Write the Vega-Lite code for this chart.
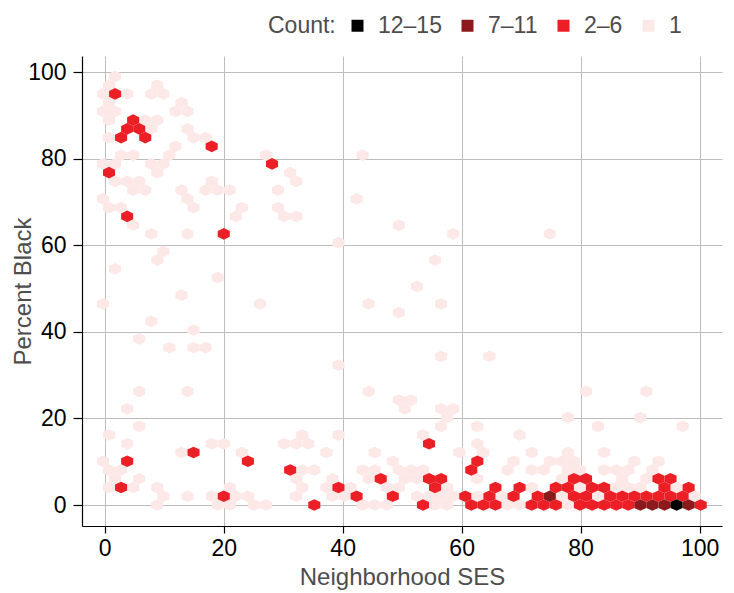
{
 "$schema": "https://vega.github.io/schema/vega-lite/v6.json",
 "autosize": {"type": "none"},
 "padding": {"left": 82, "top": 56, "right": 12, "bottom": 67},
 "width": 640,
 "height": 470,
 "config": {"view": {"stroke": null}, "font": "Liberation Sans"},
 "data": {"values": [
  {"x":1.74,"y":98.98,"n":"1"},
  {"x":0.72,"y":96.96,"n":"1"},{"x":8.84,"y":96.96,"n":"1"},
  {"x":-0.3,"y":94.94,"n":"1"},{"x":3.77,"y":94.94,"n":"1"},{"x":7.83,"y":94.94,"n":"1"},{"x":9.86,"y":94.94,"n":"1"},
  {"x":0.72,"y":92.92,"n":"1"},{"x":12.9,"y":92.92,"n":"1"},
  {"x":-0.3,"y":90.9,"n":"1"},{"x":1.74,"y":90.9,"n":"1"},{"x":11.89,"y":90.9,"n":"1"},{"x":13.92,"y":90.9,"n":"1"},
  {"x":0.72,"y":88.88,"n":"1"},{"x":6.81,"y":88.88,"n":"1"},{"x":8.84,"y":88.88,"n":"1"},
  {"x":7.83,"y":86.86,"n":"1"},{"x":13.92,"y":86.86,"n":"1"},
  {"x":0.72,"y":84.84,"n":"1"},{"x":14.93,"y":84.84,"n":"1"},{"x":16.96,"y":84.84,"n":"1"},
  {"x":11.89,"y":82.82,"n":"1"},
  {"x":2.75,"y":80.8,"n":"1"},{"x":4.78,"y":80.8,"n":"1"},{"x":10.87,"y":80.8,"n":"1"},{"x":27.11,"y":80.8,"n":"1"},{"x":43.35,"y":80.8,"n":"1"},
  {"x":-0.3,"y":78.78,"n":"1"},{"x":1.74,"y":78.78,"n":"1"},{"x":7.83,"y":78.78,"n":"1"},{"x":9.86,"y":78.78,"n":"1"},
  {"x":8.84,"y":76.76,"n":"1"},{"x":31.17,"y":76.76,"n":"1"},
  {"x":1.74,"y":74.74,"n":"1"},{"x":3.77,"y":74.74,"n":"1"},{"x":5.8,"y":74.74,"n":"1"},{"x":17.98,"y":74.74,"n":"1"},{"x":32.19,"y":74.74,"n":"1"},
  {"x":4.78,"y":72.72,"n":"1"},{"x":6.81,"y":72.72,"n":"1"},{"x":12.9,"y":72.72,"n":"1"},{"x":16.96,"y":72.72,"n":"1"},{"x":18.99,"y":72.72,"n":"1"},{"x":21.02,"y":72.72,"n":"1"},{"x":29.14,"y":72.72,"n":"1"},
  {"x":-0.3,"y":70.7,"n":"1"},{"x":13.92,"y":70.7,"n":"1"},{"x":42.34,"y":70.7,"n":"1"},
  {"x":0.72,"y":68.68,"n":"1"},{"x":2.75,"y":68.68,"n":"1"},{"x":14.93,"y":68.68,"n":"1"},{"x":23.05,"y":68.68,"n":"1"},{"x":29.14,"y":68.68,"n":"1"},
  {"x":22.04,"y":66.66,"n":"1"},{"x":30.16,"y":66.66,"n":"1"},{"x":32.19,"y":66.66,"n":"1"},
  {"x":4.78,"y":64.64,"n":"1"},{"x":49.44,"y":64.64,"n":"1"},
  {"x":7.83,"y":62.62,"n":"1"},{"x":13.92,"y":62.62,"n":"1"},{"x":58.58,"y":62.62,"n":"1"},{"x":74.82,"y":62.62,"n":"1"},
  {"x":39.29,"y":60.6,"n":"1"},
  {"x":9.86,"y":58.58,"n":"1"},
  {"x":8.84,"y":56.56,"n":"1"},{"x":55.53,"y":56.56,"n":"1"},
  {"x":1.74,"y":54.54,"n":"1"},
  {"x":18.99,"y":52.52,"n":"1"},
  {"x":52.49,"y":50.5,"n":"1"},
  {"x":12.9,"y":48.48,"n":"1"},
  {"x":-0.3,"y":46.46,"n":"1"},{"x":26.1,"y":46.46,"n":"1"},{"x":44.37,"y":46.46,"n":"1"},{"x":56.55,"y":46.46,"n":"1"},
  {"x":49.44,"y":44.44,"n":"1"},
  {"x":7.83,"y":42.42,"n":"1"},
  {"x":14.93,"y":40.4,"n":"1"},
  {"x":5.8,"y":38.38,"n":"1"},
  {"x":10.87,"y":36.36,"n":"1"},{"x":14.93,"y":36.36,"n":"1"},{"x":16.96,"y":36.36,"n":"1"},
  {"x":56.55,"y":34.34,"n":"1"},{"x":64.67,"y":34.34,"n":"1"},
  {"x":39.29,"y":32.32,"n":"1"},
  {"x":5.8,"y":26.26,"n":"1"},{"x":13.92,"y":26.26,"n":"1"},{"x":44.37,"y":26.26,"n":"1"},{"x":80.91,"y":26.26,"n":"1"},{"x":91.06,"y":26.26,"n":"1"},
  {"x":49.44,"y":24.24,"n":"1"},{"x":51.47,"y":24.24,"n":"1"},
  {"x":3.77,"y":22.22,"n":"1"},{"x":50.46,"y":22.22,"n":"1"},{"x":56.55,"y":22.22,"n":"1"},{"x":58.58,"y":22.22,"n":"1"},
  {"x":57.56,"y":20.2,"n":"1"},{"x":77.86,"y":20.2,"n":"1"},{"x":90.04,"y":20.2,"n":"1"},
  {"x":5.8,"y":18.18,"n":"1"},{"x":56.55,"y":18.18,"n":"1"},{"x":62.64,"y":18.18,"n":"1"},{"x":82.94,"y":18.18,"n":"1"},{"x":97.15,"y":18.18,"n":"1"},
  {"x":0.72,"y":16.16,"n":"1"},{"x":33.2,"y":16.16,"n":"1"},{"x":39.29,"y":16.16,"n":"1"},{"x":53.5,"y":16.16,"n":"1"},{"x":69.74,"y":16.16,"n":"1"},
  {"x":3.77,"y":14.14,"n":"1"},{"x":17.98,"y":14.14,"n":"1"},{"x":20.01,"y":14.14,"n":"1"},{"x":30.16,"y":14.14,"n":"1"},{"x":32.19,"y":14.14,"n":"1"},{"x":34.22,"y":14.14,"n":"1"},{"x":62.64,"y":14.14,"n":"1"},
  {"x":12.9,"y":12.12,"n":"1"},{"x":23.05,"y":12.12,"n":"1"},{"x":37.26,"y":12.12,"n":"1"},{"x":45.38,"y":12.12,"n":"1"},{"x":59.59,"y":12.12,"n":"1"},{"x":63.65,"y":12.12,"n":"1"},{"x":71.77,"y":12.12,"n":"1"},{"x":77.86,"y":12.12,"n":"1"},{"x":83.95,"y":12.12,"n":"1"},
  {"x":-0.3,"y":10.1,"n":"1"},{"x":48.43,"y":10.1,"n":"1"},{"x":68.73,"y":10.1,"n":"1"},{"x":74.82,"y":10.1,"n":"1"},{"x":76.85,"y":10.1,"n":"1"},{"x":78.88,"y":10.1,"n":"1"},{"x":89.03,"y":10.1,"n":"1"},{"x":93.09,"y":10.1,"n":"1"},
  {"x":0.72,"y":8.08,"n":"1"},{"x":2.75,"y":8.08,"n":"1"},{"x":33.2,"y":8.08,"n":"1"},{"x":35.23,"y":8.08,"n":"1"},{"x":43.35,"y":8.08,"n":"1"},{"x":45.38,"y":8.08,"n":"1"},{"x":49.44,"y":8.08,"n":"1"},{"x":51.47,"y":8.08,"n":"1"},{"x":53.5,"y":8.08,"n":"1"},{"x":67.71,"y":8.08,"n":"1"},{"x":71.77,"y":8.08,"n":"1"},{"x":73.8,"y":8.08,"n":"1"},{"x":77.86,"y":8.08,"n":"1"},{"x":79.89,"y":8.08,"n":"1"},{"x":83.95,"y":8.08,"n":"1"},{"x":85.98,"y":8.08,"n":"1"},{"x":88.01,"y":8.08,"n":"1"},{"x":92.07,"y":8.08,"n":"1"},
  {"x":1.74,"y":6.06,"n":"1"},{"x":5.8,"y":6.06,"n":"1"},{"x":32.19,"y":6.06,"n":"1"},{"x":38.28,"y":6.06,"n":"1"},{"x":44.37,"y":6.06,"n":"1"},{"x":50.46,"y":6.06,"n":"1"},{"x":52.49,"y":6.06,"n":"1"},{"x":62.64,"y":6.06,"n":"1"},{"x":76.85,"y":6.06,"n":"1"},{"x":87.0,"y":6.06,"n":"1"},{"x":91.06,"y":6.06,"n":"1"},
  {"x":0.72,"y":4.04,"n":"1"},{"x":4.78,"y":4.04,"n":"1"},{"x":8.84,"y":4.04,"n":"1"},{"x":21.02,"y":4.04,"n":"1"},{"x":33.2,"y":4.04,"n":"1"},{"x":37.26,"y":4.04,"n":"1"},{"x":41.32,"y":4.04,"n":"1"},{"x":47.41,"y":4.04,"n":"1"},{"x":49.44,"y":4.04,"n":"1"},{"x":57.56,"y":4.04,"n":"1"},{"x":71.77,"y":4.04,"n":"1"},{"x":79.89,"y":4.04,"n":"1"},{"x":85.98,"y":4.04,"n":"1"},{"x":88.01,"y":4.04,"n":"1"},{"x":90.04,"y":4.04,"n":"1"},{"x":96.13,"y":4.04,"n":"1"},
  {"x":9.86,"y":2.02,"n":"1"},{"x":13.92,"y":2.02,"n":"1"},{"x":17.98,"y":2.02,"n":"1"},{"x":22.04,"y":2.02,"n":"1"},{"x":24.07,"y":2.02,"n":"1"},{"x":32.19,"y":2.02,"n":"1"},{"x":38.28,"y":2.02,"n":"1"},{"x":40.31,"y":2.02,"n":"1"},{"x":52.49,"y":2.02,"n":"1"},{"x":54.52,"y":2.02,"n":"1"},{"x":56.55,"y":2.02,"n":"1"},{"x":58.58,"y":2.02,"n":"1"},{"x":62.64,"y":2.02,"n":"1"},{"x":66.7,"y":2.02,"n":"1"},{"x":76.85,"y":2.02,"n":"1"},{"x":82.94,"y":2.02,"n":"1"},{"x":99.18,"y":2.02,"n":"1"},
  {"x":8.84,"y":0,"n":"1"},{"x":18.99,"y":0,"n":"1"},{"x":21.02,"y":0,"n":"1"},{"x":25.08,"y":0,"n":"1"},{"x":27.11,"y":0,"n":"1"},{"x":43.35,"y":0,"n":"1"},{"x":45.38,"y":0,"n":"1"},{"x":47.41,"y":0,"n":"1"},{"x":55.53,"y":0,"n":"1"},{"x":57.56,"y":0,"n":"1"},{"x":67.71,"y":0,"n":"1"},{"x":69.74,"y":0,"n":"1"},{"x":77.86,"y":0,"n":"1"},
  {"x":1.74,"y":94.94,"n":"2–6"},
  {"x":4.78,"y":88.88,"n":"2–6"},
  {"x":3.77,"y":86.86,"n":"2–6"},{"x":5.8,"y":86.86,"n":"2–6"},
  {"x":2.75,"y":84.84,"n":"2–6"},{"x":6.81,"y":84.84,"n":"2–6"},
  {"x":17.98,"y":82.82,"n":"2–6"},
  {"x":28.13,"y":78.78,"n":"2–6"},
  {"x":0.72,"y":76.76,"n":"2–6"},
  {"x":3.77,"y":66.66,"n":"2–6"},
  {"x":20.01,"y":62.62,"n":"2–6"},
  {"x":54.52,"y":14.14,"n":"2–6"},
  {"x":14.93,"y":12.12,"n":"2–6"},
  {"x":3.77,"y":10.1,"n":"2–6"},{"x":24.07,"y":10.1,"n":"2–6"},{"x":62.64,"y":10.1,"n":"2–6"},
  {"x":31.17,"y":8.08,"n":"2–6"},{"x":61.62,"y":8.08,"n":"2–6"},
  {"x":46.4,"y":6.06,"n":"2–6"},{"x":54.52,"y":6.06,"n":"2–6"},{"x":56.55,"y":6.06,"n":"2–6"},{"x":78.88,"y":6.06,"n":"2–6"},{"x":80.91,"y":6.06,"n":"2–6"},{"x":93.09,"y":6.06,"n":"2–6"},{"x":95.12,"y":6.06,"n":"2–6"},
  {"x":2.75,"y":4.04,"n":"2–6"},{"x":39.29,"y":4.04,"n":"2–6"},{"x":55.53,"y":4.04,"n":"2–6"},{"x":65.68,"y":4.04,"n":"2–6"},{"x":69.74,"y":4.04,"n":"2–6"},{"x":75.83,"y":4.04,"n":"2–6"},{"x":77.86,"y":4.04,"n":"2–6"},{"x":81.92,"y":4.04,"n":"2–6"},{"x":83.95,"y":4.04,"n":"2–6"},{"x":94.1,"y":4.04,"n":"2–6"},{"x":98.16,"y":4.04,"n":"2–6"},
  {"x":20.01,"y":2.02,"n":"2–6"},{"x":42.34,"y":2.02,"n":"2–6"},{"x":48.43,"y":2.02,"n":"2–6"},{"x":60.61,"y":2.02,"n":"2–6"},{"x":64.67,"y":2.02,"n":"2–6"},{"x":68.73,"y":2.02,"n":"2–6"},{"x":72.79,"y":2.02,"n":"2–6"},{"x":78.88,"y":2.02,"n":"2–6"},{"x":80.91,"y":2.02,"n":"2–6"},{"x":84.97,"y":2.02,"n":"2–6"},{"x":87.0,"y":2.02,"n":"2–6"},{"x":89.03,"y":2.02,"n":"2–6"},{"x":91.06,"y":2.02,"n":"2–6"},{"x":93.09,"y":2.02,"n":"2–6"},{"x":95.12,"y":2.02,"n":"2–6"},{"x":97.15,"y":2.02,"n":"2–6"},
  {"x":35.23,"y":0,"n":"2–6"},{"x":53.5,"y":0,"n":"2–6"},{"x":61.62,"y":0,"n":"2–6"},{"x":63.65,"y":0,"n":"2–6"},{"x":65.68,"y":0,"n":"2–6"},{"x":71.77,"y":0,"n":"2–6"},{"x":73.8,"y":0,"n":"2–6"},{"x":75.83,"y":0,"n":"2–6"},{"x":79.89,"y":0,"n":"2–6"},{"x":81.92,"y":0,"n":"2–6"},{"x":83.95,"y":0,"n":"2–6"},{"x":85.98,"y":0,"n":"2–6"},{"x":88.01,"y":0,"n":"2–6"},{"x":100.19,"y":0,"n":"2–6"},
  {"x":74.82,"y":2.02,"n":"7–11"},
  {"x":90.04,"y":0,"n":"7–11"},{"x":92.07,"y":0,"n":"7–11"},{"x":94.1,"y":0,"n":"7–11"},{"x":98.16,"y":0,"n":"7–11"},
  {"x":96.13,"y":0,"n":"12–15"}
 ]},
 "mark": {"type": "point", "filled": true, "opacity": 1, "size": 146, "strokeWidth": 0,
  "shape": "M0,-0.967L1,-0.484L1,0.484L0,0.967L-1,0.484L-1,-0.484Z"},
 "encoding": {
  "x": {"field": "x", "type": "quantitative",
   "scale": {"domain": [-3.82, 103.77], "nice": false, "zero": false},
   "axis": {"values": [0, 20, 40, 60, 80, 100], "title": "Neighborhood SES", "grid": true,
    "gridColor": "#bdbdbd", "gridWidth": 1, "domainColor": "#000000", "domainWidth": 1.2,
    "tickColor": "#000000", "tickSize": 7, "tickWidth": 1.2, "labelFontSize": 23, "labelColor": "#000000",
    "labelPadding": 4, "titleFontSize": 24, "titleFontWeight": "normal", "titleColor": "#4d4d4d", "titlePadding": 5}},
  "y": {"field": "y", "type": "quantitative",
   "scale": {"domain": [-4.85, 103.7], "nice": false, "zero": false},
   "axis": {"values": [0, 20, 40, 60, 80, 100], "title": "Percent Black", "grid": true,
    "gridColor": "#bdbdbd", "gridWidth": 1, "domainColor": "#000000", "domainWidth": 1.2,
    "tickColor": "#000000", "tickSize": 9, "tickWidth": 1.2, "labelFontSize": 23, "labelColor": "#000000",
    "labelPadding": 7, "titleFontSize": 24, "titleFontWeight": "normal", "titleColor": "#4d4d4d", "titlePadding": -8}},
  "color": {"field": "n", "type": "nominal",
   "scale": {"domain": ["12–15", "7–11", "2–6", "1"], "range": ["#000000", "#8c1a1d", "#ec1f26", "#fde8e8"]},
   "legend": {"orient": "none", "legendX": 186, "legendY": -42, "direction": "horizontal",
    "title": "Count:", "titleOrient": "left", "titleFontSize": 23, "titleFontWeight": "normal", "titleColor": "#4d4d4d",
    "titlePadding": 10, "labelFontSize": 23, "labelColor": "#4d4d4d", "labelOffset": 9,
    "symbolType": "square", "symbolSize": 144, "symbolStrokeWidth": 0, "symbolOpacity": 1, "columnPadding": 14}}
 }
}
